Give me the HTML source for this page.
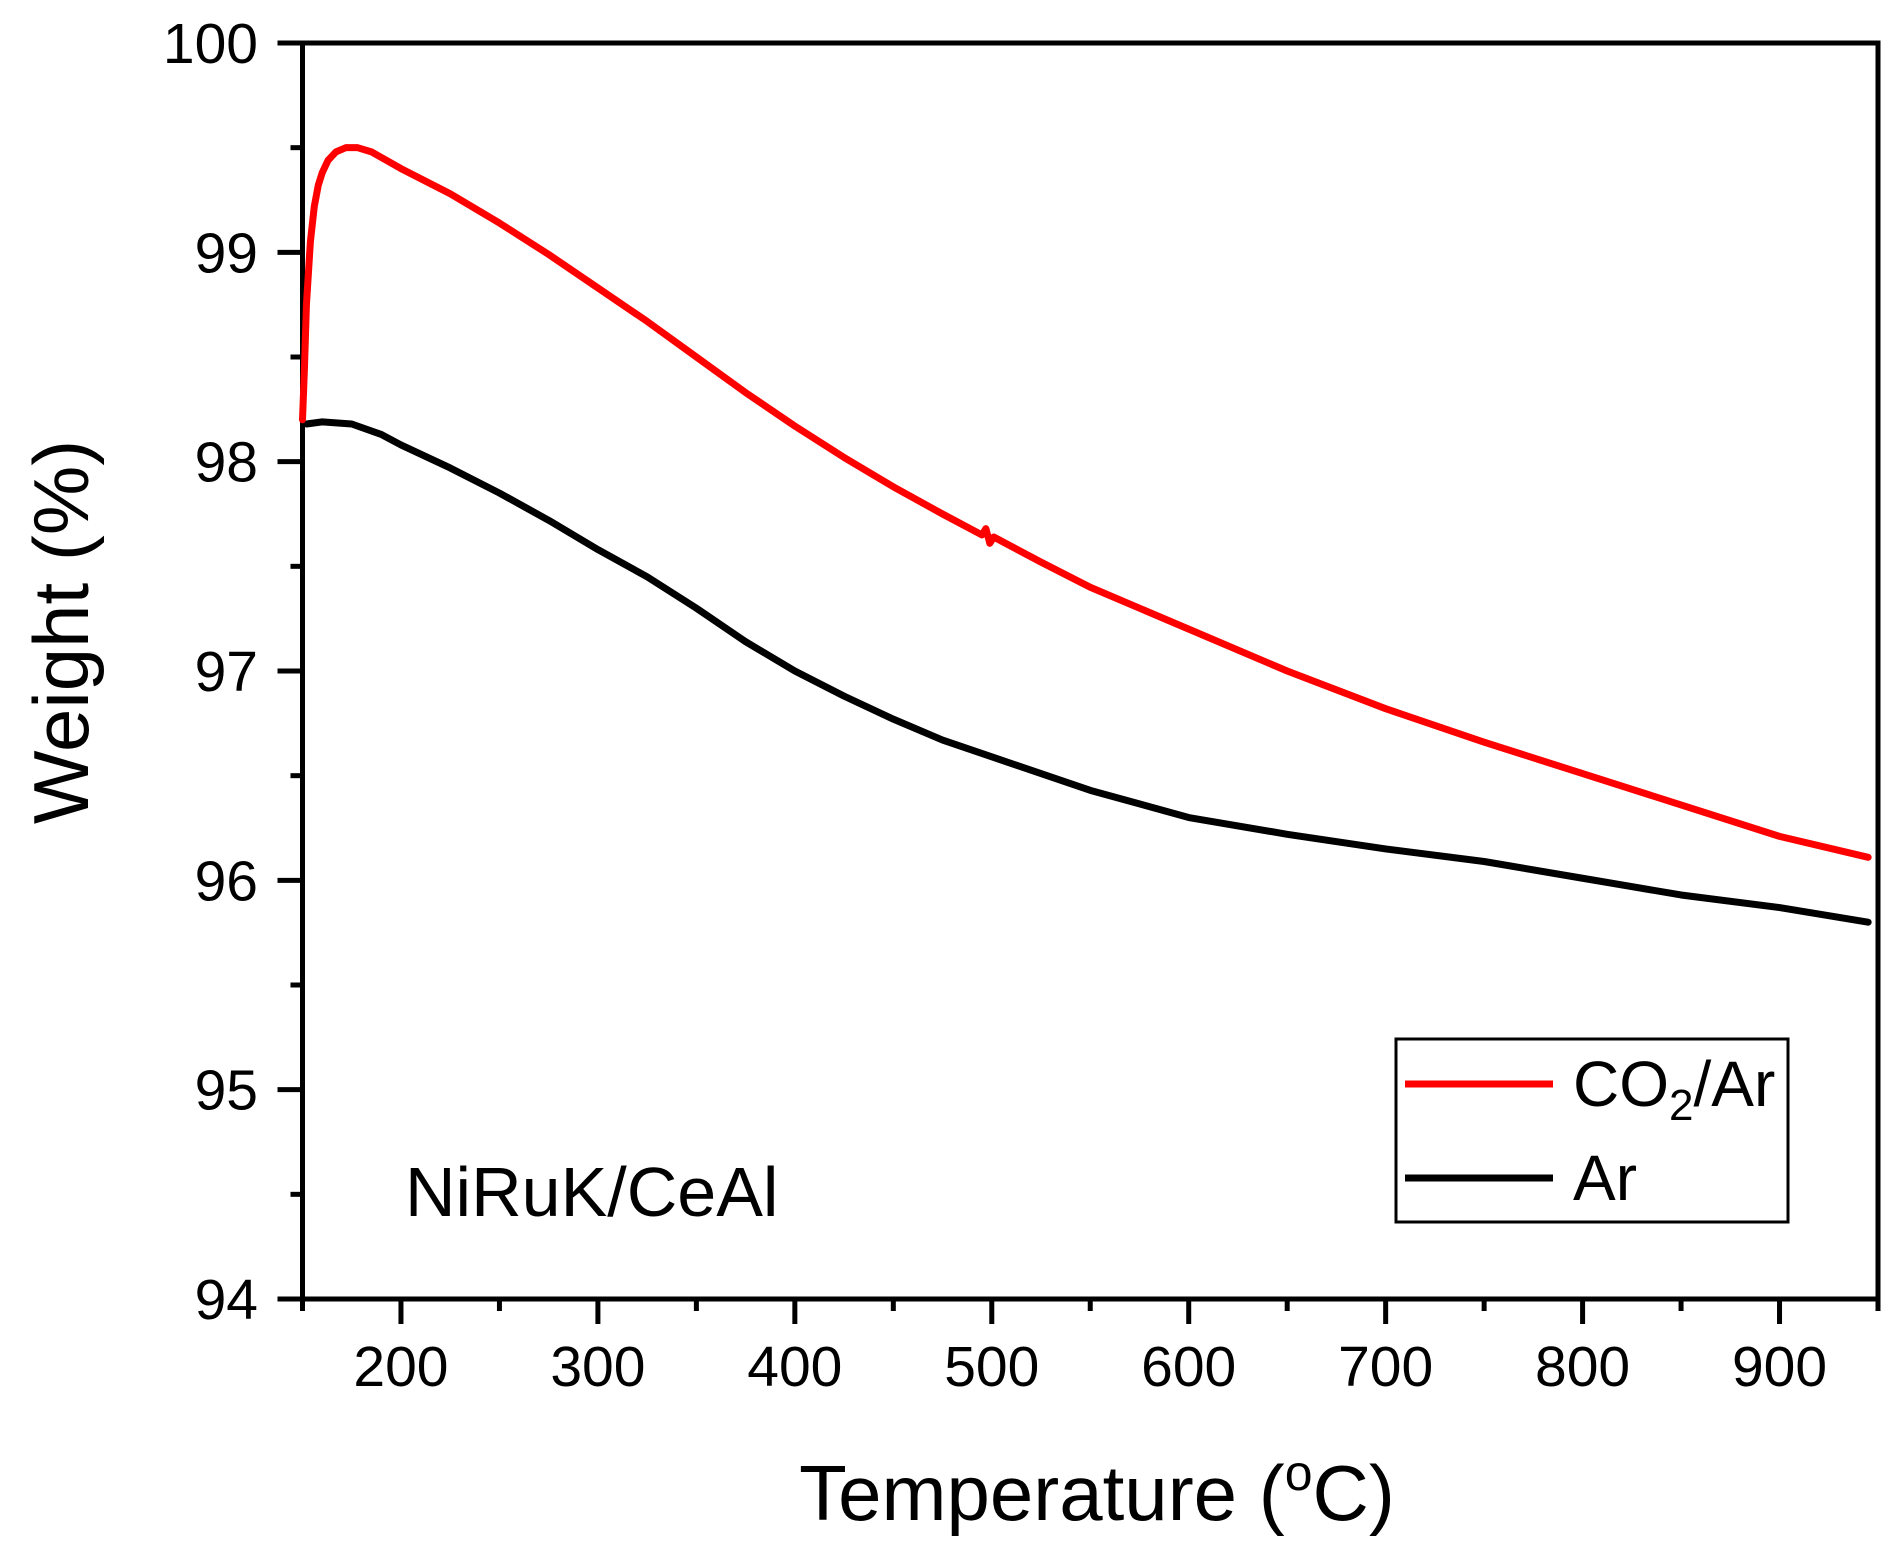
<!DOCTYPE html>
<html><head><meta charset="utf-8"><style>
html,body{margin:0;padding:0;background:#fff;}
svg text{font-family:"Liberation Sans",Arial,sans-serif;}
</style></head><body>
<svg id="chart" width="1903" height="1546" xmlns="http://www.w3.org/2000/svg">
<g id="axes"></g>
<g id="series"></g>
<text x="405" y="1216" font-size="70">NiRuK/CeAl</text>
<text transform="translate(88,632) rotate(-90)" text-anchor="middle" font-size="78">Weight (%)</text>
<text x="1097" y="1520" text-anchor="middle" font-size="78">Temperature (<tspan dy="-30" font-size="50">o</tspan><tspan dy="30">C)</tspan></text>
<g>
<rect x="1396" y="1039" width="392" height="183" fill="#fff" stroke="#000" stroke-width="3"/>
<line x1="1405" y1="1084" x2="1553" y2="1084" stroke="#ff0000" stroke-width="7"/>
<text x="1573" y="1106" font-size="64">CO<tspan dy="14" font-size="44">2</tspan><tspan dy="-14">/Ar</tspan></text>
<line x1="1405" y1="1178" x2="1553" y2="1178" stroke="#000" stroke-width="7"/>
<text x="1573" y="1200" font-size="64">Ar</text>
</g>
</svg>
<script>
const xTicks=[200,300,400,500,600,700,800,900];
const yTicks=[94,95,96,97,98,99,100];
const co2X=[150,151,152,154,156,158,160,163,167,172,178,185,200,225,250,275,300,325,350,375,400,425,450,475,495,497,499,501,525,550,575,600,650,700,750,800,850,900,945];
const co2Y=[98.2,98.45,98.75,99.05,99.22,99.32,99.38,99.44,99.48,99.5,99.5,99.48,99.4,99.28,99.14,98.99,98.83,98.67,98.5,98.33,98.17,98.02,97.88,97.75,97.65,97.68,97.61,97.64,97.52,97.4,97.3,97.2,97.0,96.82,96.66,96.51,96.36,96.21,96.11];
const arX=[152,160,175,190,200,225,250,275,300,325,350,375,400,425,450,475,500,550,600,650,700,750,800,850,900,945];
const arY=[98.18,98.19,98.18,98.13,98.08,97.97,97.85,97.72,97.58,97.45,97.3,97.14,97.0,96.88,96.77,96.67,96.59,96.43,96.3,96.22,96.15,96.09,96.01,95.93,95.87,95.8];
const X0=302.5,X1=1878,Y0=1299,Y1=43;
const sx=v=>X0+(v-150)/(950-150)*(X1-X0);
const sy=v=>Y0-(v-94)/(100-94)*(Y0-Y1);
const NS="http://www.w3.org/2000/svg";
const axes=document.getElementById('axes');
function mk(tag,attrs,parent){const e=document.createElementNS(NS,tag);for(const k in attrs)e.setAttribute(k,attrs[k]);parent.appendChild(e);return e;}
const frame=mk('rect',{x:X0,y:Y1,width:X1-X0,height:Y0-Y1,fill:'none',stroke:'#000','stroke-width':5},axes);


xTicks.forEach(v=>{
 const t=mk('line',{x1:sx(v),x2:sx(v),y1:Y0,y2:Y0+25,stroke:'#000','stroke-width':5},axes);
 
 
 const l=mk('text',{x:sx(v),y:1386,'text-anchor':'middle','font-size':57},axes);
 l.textContent=v;
 
 
});
[150,250,350,450,550,650,750,850,950].forEach(v=>{
 const t=mk('line',{x1:sx(v),x2:sx(v),y1:Y0,y2:Y0+12,stroke:'#000','stroke-width':5},axes);
 
 
});
yTicks.forEach(v=>{
 const t=mk('line',{x1:X0-25,x2:X0,y1:sy(v),y2:sy(v),stroke:'#000','stroke-width':5},axes);
 
 
 const l=mk('text',{x:258,y:sy(v)+20,'text-anchor':'end','font-size':57},axes);
 l.textContent=v;
 
 
 if(v<100){
  const m=mk('line',{x1:X0-12,x2:X0,y1:sy(v+0.5),y2:sy(v+0.5),stroke:'#000','stroke-width':5},axes);
  
  
 }
});
const series=document.getElementById('series');
function line(xs,ys,color,name){
 const p=mk('polyline',{points:xs.map((x,i)=>sx(x)+','+sy(ys[i])).join(' '),fill:'none',stroke:color,'stroke-width':7,'stroke-linejoin':'round','stroke-linecap':'round'},series);
 
 
}
line(arX,arY,'#000','ar-curve');
line(co2X,co2Y,'#ff0000','co2-ar-curve');
</script>
</body></html>
